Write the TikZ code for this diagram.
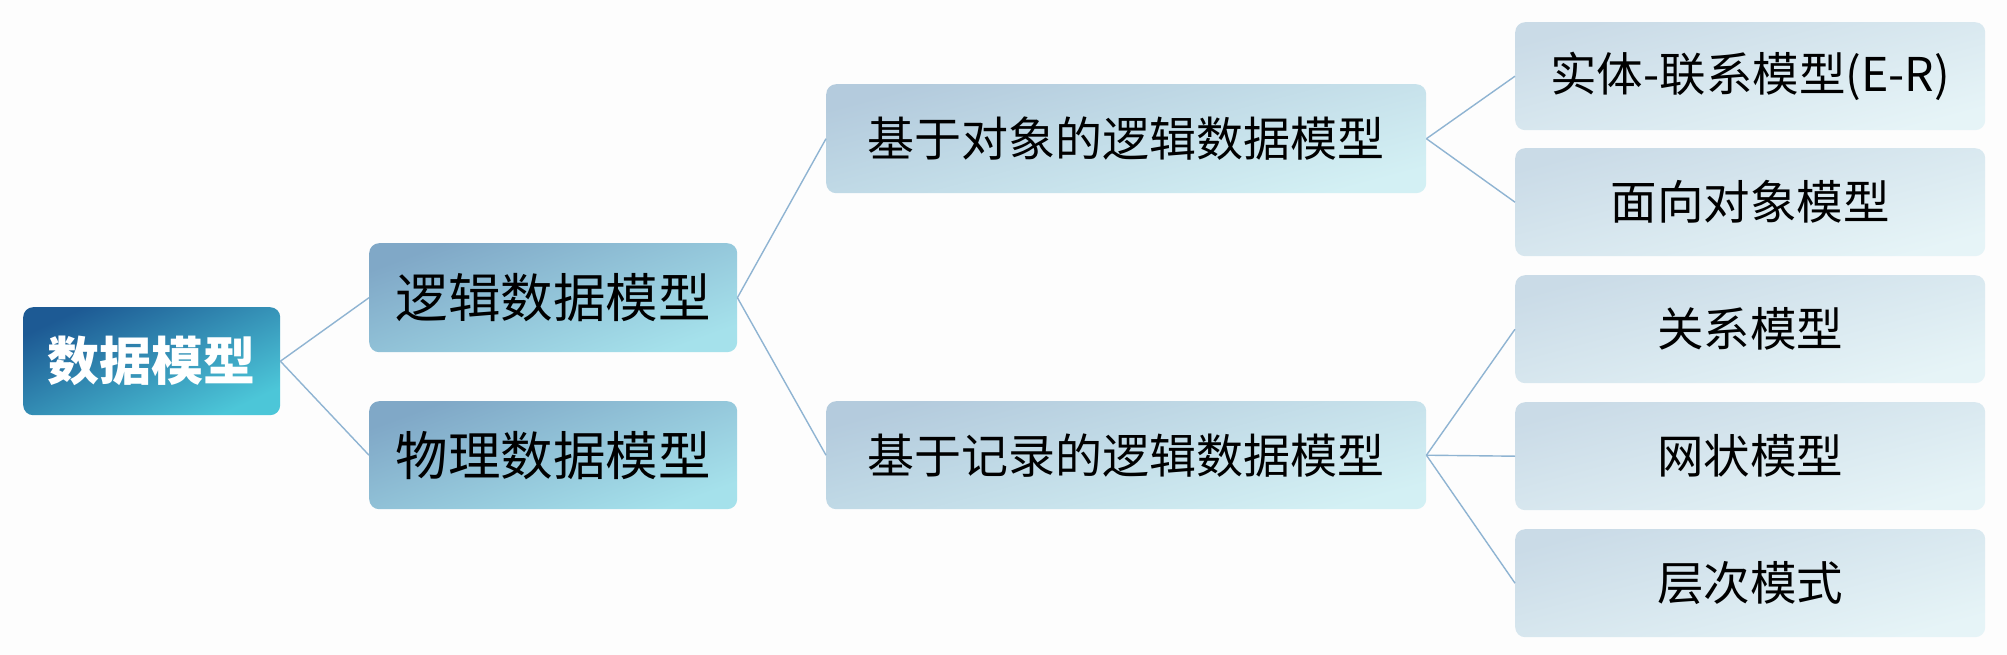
\documentclass[tikz,border=0pt]{standalone}
\usepackage{fontspec}
\setmainfont{Noto Sans CJK SC}
\usetikzlibrary{shadings}
\definecolor{rootA}{HTML}{1D5A94}
\definecolor{rootB}{HTML}{4CC6D8}
\definecolor{lvA}{HTML}{80A8C7}
\definecolor{lvB}{HTML}{A5E1EB}
\definecolor{lwA}{HTML}{B4CBDD}
\definecolor{lwB}{HTML}{D3F0F4}
\definecolor{lxA}{HTML}{CADBE7}
\definecolor{lxB}{HTML}{E6F4F7}
\definecolor{linkc}{HTML}{8FB4D2}
\definecolor{bgc}{HTML}{FDFDFD}
\begin{document}
\begin{tikzpicture}[x=1pt,y=-1pt,
  box/.style={rounded corners=10pt, inner sep=0pt, anchor=north west},
  rootbox/.style={box, top color=rootA, bottom color=rootB, shading angle=25, text=white, font=\bfseries\fontsize{52}{60}\selectfont},
  lvbox/.style={box, top color=lvA, bottom color=lvB, shading angle=20, text=black, font=\fontsize{52.5}{60}\selectfont},
  lwbox/.style={box, top color=lwA, bottom color=lwB, shading angle=15, text=black, font=\fontsize{47}{56}\selectfont},
  lxbox/.style={box, top color=lxA, bottom color=lxB, shading angle=15, text=black, font=\fontsize{46.5}{56}\selectfont},
  link/.style={draw=linkc, line width=1.4pt}]
\fill[bgc] (0,0) rectangle (2007,655);
\useasboundingbox (0,0) rectangle (2007,655);
\node[rootbox, minimum width=257pt, minimum height=108pt] (root) at (23,307) {数据模型};
\node[lvbox, minimum width=368pt, minimum height=109pt] (logic) at (369,243) {逻辑数据模型};
\node[lvbox, minimum width=368pt, minimum height=108pt] (phys) at (369,401) {物理数据模型};
\node[lwbox, minimum width=600pt, minimum height=109pt] (obj) at (826,84) {基于对象的逻辑数据模型};
\node[lwbox, minimum width=600pt, minimum height=108pt] (rec) at (826,401) {基于记录的逻辑数据模型};
\node[lxbox, minimum width=470pt, minimum height=108pt] (er) at (1515,22) {实体-联系模型(E-R)};
\node[lxbox, minimum width=470pt, minimum height=108pt] (oo) at (1515,148) {面向对象模型};
\node[lxbox, minimum width=470pt, minimum height=108pt] (rel) at (1515,275) {关系模型};
\node[lxbox, minimum width=470pt, minimum height=108pt] (net) at (1515,402) {网状模型};
\node[lxbox, minimum width=470pt, minimum height=108pt] (hier) at (1515,529) {层次模式};
\draw[link] (root.east) -- (logic.west);
\draw[link] (root.east) -- (phys.west);
\draw[link] (logic.east) -- (obj.west);
\draw[link] (logic.east) -- (rec.west);
\draw[link] (obj.east) -- (er.west);
\draw[link] (obj.east) -- (oo.west);
\draw[link] (rec.east) -- (rel.west);
\draw[link] (rec.east) -- (net.west);
\draw[link] (rec.east) -- (hier.west);
\end{tikzpicture}
\end{document}
